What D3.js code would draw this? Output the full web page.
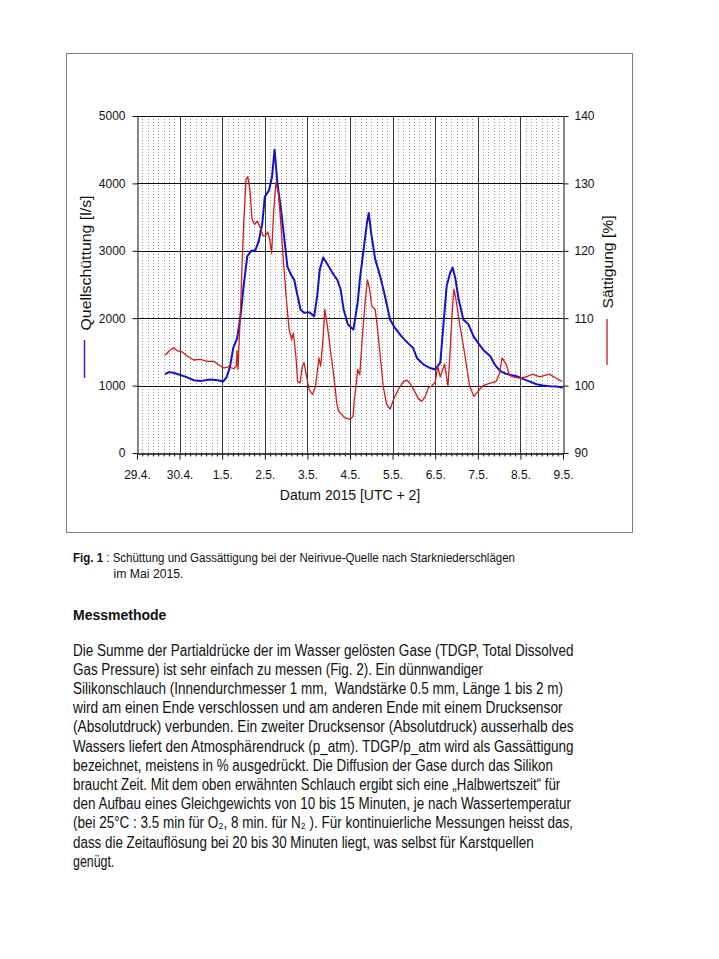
<!DOCTYPE html>
<html><head><meta charset="utf-8">
<script src="https://cdn.jsdelivr.net/npm/d3@7"></script>
<style>
html,body{margin:0;padding:0;background:#fff;}
svg{display:block;}
text{font-family:"Liberation Sans",Arial,sans-serif;fill:#111;white-space:pre;}
</style></head>
<body>
<script>
// ---- data (days since 29.4.2015 00:00, UTC+2) ----
const dayLabels = ["29.4.","30.4.","1.5.","2.5.","3.5.","4.5.","5.5.","6.5.","7.5.","8.5.","9.5."];
const qTicks = [0,1000,2000,3000,4000,5000];
const sTicks = [90,100,110,120,130,140];

// Quellschüttung [l/s]
const qDay = [0.66,0.75,0.85,1.0,1.15,1.33,1.5,1.72,1.9,2.02,2.1,2.18,2.26,2.35,2.43,2.51,2.59,2.68,2.78,2.86,2.94,3.0,3.10,3.17,3.23,3.30,3.38,3.46,3.53,3.61,3.69,3.77,3.84,3.92,4.04,4.16,4.23,4.29,4.37,4.47,4.58,4.70,4.78,4.85,4.95,5.08,5.18,5.24,5.32,5.40,5.44,5.50,5.59,5.71,5.82,5.94,6.05,6.21,6.36,6.48,6.57,6.73,6.88,7.0,7.12,7.19,7.27,7.35,7.41,7.47,7.55,7.66,7.78,7.90,8.01,8.13,8.29,8.40,8.52,8.64,8.75,8.91,9.06,9.22,9.38,9.53,9.69,9.84,10.0];
const qVal = [1170,1200,1190,1160,1130,1080,1070,1090,1080,1060,1120,1270,1560,1700,2030,2520,2920,3000,3010,3150,3400,3800,3900,4100,4500,3980,3610,3170,2770,2650,2570,2330,2130,2080,2090,2030,2330,2720,2900,2800,2680,2570,2430,2130,1910,1830,2230,2620,3020,3420,3560,3250,2880,2620,2330,1980,1860,1730,1630,1560,1410,1310,1260,1240,1340,1880,2480,2670,2750,2600,2280,1980,1910,1730,1630,1530,1440,1310,1220,1180,1160,1140,1100,1060,1020,1000,990,985,970];

// Sättigung [%]
const sDay = [0.66,0.75,0.85,0.94,1.06,1.18,1.33,1.49,1.65,1.80,1.92,2.04,2.16,2.27,2.33,2.35,2.37,2.43,2.47,2.51,2.56,2.60,2.65,2.70,2.76,2.82,2.90,2.96,3.02,3.07,3.12,3.16,3.21,3.26,3.32,3.38,3.44,3.50,3.57,3.63,3.67,3.73,3.77,3.83,3.88,3.92,3.98,4.04,4.12,4.19,4.27,4.31,4.36,4.41,4.47,4.54,4.62,4.69,4.73,4.81,4.88,5.0,5.07,5.10,5.15,5.18,5.23,5.28,5.36,5.41,5.46,5.51,5.59,5.64,5.71,5.78,5.86,5.94,6.02,6.13,6.25,6.34,6.42,6.52,6.61,6.69,6.77,6.84,6.91,7.0,7.06,7.12,7.22,7.30,7.35,7.40,7.44,7.49,7.57,7.69,7.81,7.91,8.0,8.12,8.31,8.43,8.51,8.57,8.67,8.74,8.82,8.98,9.13,9.29,9.45,9.68,9.84,9.98];
const sVal = [104.5,105.1,105.6,105.2,105.0,104.4,103.8,103.9,103.6,103.6,103.1,102.6,102.8,102.5,102.9,105.2,102.4,111.3,118.7,124.7,130.6,131.0,129.1,124.7,123.9,124.4,123.4,122.2,122.3,122.8,121.5,119.6,126.1,130.1,128.6,123.7,118.2,113.3,108.3,106.8,107.8,104.4,100.6,100.4,102.9,103.4,101.4,99.4,98.7,99.9,104.1,102.9,106.3,111.3,108.8,105.3,101.4,97.4,96.2,95.7,95.2,95.0,95.4,97.9,100.4,102.4,101.6,106.3,112.8,115.7,114.3,111.8,111.3,108.8,104.4,99.9,97.2,96.5,97.9,99.4,100.6,100.8,100.2,99.1,98.0,97.7,98.4,99.7,99.9,100.5,102.8,101.3,103.2,99.9,105.0,111.0,114.3,112.7,109.3,104.8,99.9,98.4,99.1,100.0,100.4,100.6,101.8,104.1,103.1,101.6,101.3,101.1,101.3,101.7,101.3,101.7,101.1,100.6];

const captionLines = ["Schüttung und Gassättigung bei der Neirivue-Quelle nach Starkniederschlägen","im Mai 2015."];
const paragraph = [
 "Die Summe der Partialdrücke der im Wasser gelösten Gase (TDGP, Total Dissolved",
 "Gas Pressure) ist sehr einfach zu messen (Fig. 2). Ein dünnwandiger",
 "Silikonschlauch (Innendurchmesser 1 mm,  Wandstärke 0.5 mm, Länge 1 bis 2 m)",
 "wird am einen Ende verschlossen und am anderen Ende mit einem Drucksensor",
 "(Absolutdruck) verbunden. Ein zweiter Drucksensor (Absolutdruck) ausserhalb des",
 "Wassers liefert den Atmosphärendruck (p_atm). TDGP/p_atm wird als Gassättigung",
 "bezeichnet, meistens in % ausgedrückt. Die Diffusion der Gase durch das Silikon",
 "braucht Zeit. Mit dem oben erwähnten Schlauch ergibt sich eine „Halbwertszeit“ für",
 "den Aufbau eines Gleichgewichts von 10 bis 15 Minuten, je nach Wassertemperatur",
 "(bei 25°C : 3.5 min für O₂, 8 min. für N₂ ). Für kontinuierliche Messungen heisst das,",
 "dass die Zeitauflösung bei 20 bis 30 Minuten liegt, was selbst für Karstquellen",
 "genügt."
];
const paraWidths = [500.6,410,490,489.6,500.6,500.6,480,487.3,498,500,460.6,41.3];

// ---- drawing ----
const W = 719, H = 959;
const svg = d3.select("body").append("svg").attr("width", W).attr("height", H);
svg.append("rect").attr("width", W).attr("height", H).attr("fill", "#fff");

// chart frame
svg.append("rect").attr("x", 66.5).attr("y", 53.5).attr("width", 566).attr("height", 479)
  .attr("fill", "#fff").attr("stroke", "#808080").attr("stroke-width", 1);

const x = d3.scaleLinear().domain([0, 10]).range([137, 563]);
const yL = d3.scaleLinear().domain([0, 5000]).range([453, 116]);
const yR = d3.scaleLinear().domain([90, 140]).range([453, 116]);

const g = svg.append("g");

// minor dotted vertical grid (every 3 h)
const minor = d3.range(0, 80).map(i => i / 8).filter(v => Math.abs(v - Math.round(v)) > 1e-6);
g.selectAll("line.minor").data(minor).join("line")
  .attr("x1", d => Math.round(x(d)) + 0.5).attr("x2", d => Math.round(x(d)) + 0.5)
  .attr("y1", yL(5000)).attr("y2", yL(0))
  .attr("stroke", "#9a9a9a").attr("stroke-width", 1).attr("stroke-dasharray", "1,2");

// day grid lines
g.selectAll("line.day").data(d3.range(1, 10)).join("line")
  .attr("x1", d => Math.round(x(d)) + 0.5).attr("x2", d => Math.round(x(d)) + 0.5)
  .attr("y1", yL(5000)).attr("y2", yL(0))
  .attr("stroke", "#3a3a3a").attr("stroke-width", 1);

// horizontal grid lines
g.selectAll("line.h").data(qTicks.slice(1)).join("line")
  .attr("x1", x(0)).attr("x2", x(10))
  .attr("y1", d => Math.round(yL(d)) + 0.5).attr("y2", d => Math.round(yL(d)) + 0.5)
  .attr("stroke", "#111").attr("stroke-width", 1);

// series
const lineQ = d3.line().x((d, i) => x(qDay[i])).y(d => yL(d));
const lineS = d3.line().x((d, i) => x(sDay[i])).y(d => yR(d));
g.append("path").attr("d", lineQ(qVal)).attr("fill", "none")
  .attr("stroke", "#1212cc").attr("stroke-width", 2).attr("stroke-linejoin", "round");
g.append("path").attr("d", lineS(sVal)).attr("fill", "none")
  .attr("stroke", "#d41c1c").attr("stroke-width", 1.3).attr("stroke-linejoin", "round");

// axes
function styleAxis(sel) {
  sel.selectAll("text").style("font-size", "12px").style("fill", "#111")
    .style("font-family", '"Liberation Sans",Arial,sans-serif');
  sel.selectAll("line,path").attr("stroke", "#111");
}
svg.append("g").attr("transform", "translate(137.5,0)")
  .call(d3.axisLeft(yL).tickValues(qTicks).tickSize(5).tickSizeOuter(0).tickPadding(7).tickFormat(d3.format("d")))
  .call(styleAxis);
svg.append("g").attr("transform", "translate(563.5,0)")
  .call(d3.axisRight(yR).tickValues(sTicks).tickSize(5).tickSizeOuter(0).tickPadding(6).tickFormat(d3.format("d")))
  .call(styleAxis);
svg.append("g").attr("transform", "translate(0,453.5)")
  .call(d3.axisBottom(x).tickValues(minor).tickSize(3).tickSizeOuter(0).tickFormat(""))
  .call(styleAxis);
svg.append("g").attr("transform", "translate(0,453.5)")
  .call(d3.axisBottom(x).tickValues(d3.range(0, 11)).tickSize(6).tickSizeOuter(0).tickPadding(11)
    .tickFormat(i => dayLabels[i]))
  .call(styleAxis);

// axis titles
svg.append("text").attr("x", 350).attr("y", 500).attr("text-anchor", "middle")
  .style("font-size", "14px").text("Datum 2015 [UTC + 2]");
svg.append("text").attr("transform", "translate(91,330.5) rotate(-90)")
  .attr("textLength", 135).attr("lengthAdjust", "spacingAndGlyphs")
  .style("font-size", "14.5px").text("Quellschüttung [l/s]");
svg.append("line").attr("x1", 84.5).attr("x2", 84.5).attr("y1", 340).attr("y2", 378)
  .attr("stroke", "#2a2ad0").attr("stroke-width", 1.5);
svg.append("text").attr("transform", "translate(613,308.5) rotate(-90)")
  .attr("textLength", 93).attr("lengthAdjust", "spacingAndGlyphs")
  .style("font-size", "14.5px").text("Sättigung [%]");
svg.append("line").attr("x1", 607).attr("x2", 607).attr("y1", 319).attr("y2", 365)
  .attr("stroke", "#cc3340").attr("stroke-width", 1.5);

// caption
const cap = svg.append("text").attr("x", 73).attr("y", 561.5)
  .attr("textLength", 442).attr("lengthAdjust", "spacingAndGlyphs").style("font-size", "12px");
cap.append("tspan").style("font-weight", "bold").text("Fig. 1");
cap.append("tspan").text(" : " + captionLines[0]);
svg.append("text").attr("x", 113.5).attr("y", 577.5)
  .attr("textLength", 70).attr("lengthAdjust", "spacingAndGlyphs").style("font-size", "12px")
  .text(captionLines[1]);

// heading
svg.append("text").attr("x", 73).attr("y", 620).style("font-size", "14px").style("font-weight", "bold")
  .text("Messmethode");

// paragraph
paragraph.forEach((ln, i) => {
  svg.append("text").attr("x", 73).attr("y", 655.5 + i * 19.2)
    .attr("textLength", paraWidths[i]).attr("lengthAdjust", "spacingAndGlyphs")
    .style("font-size", "16px").text(ln);
});
</script>
</body></html>
